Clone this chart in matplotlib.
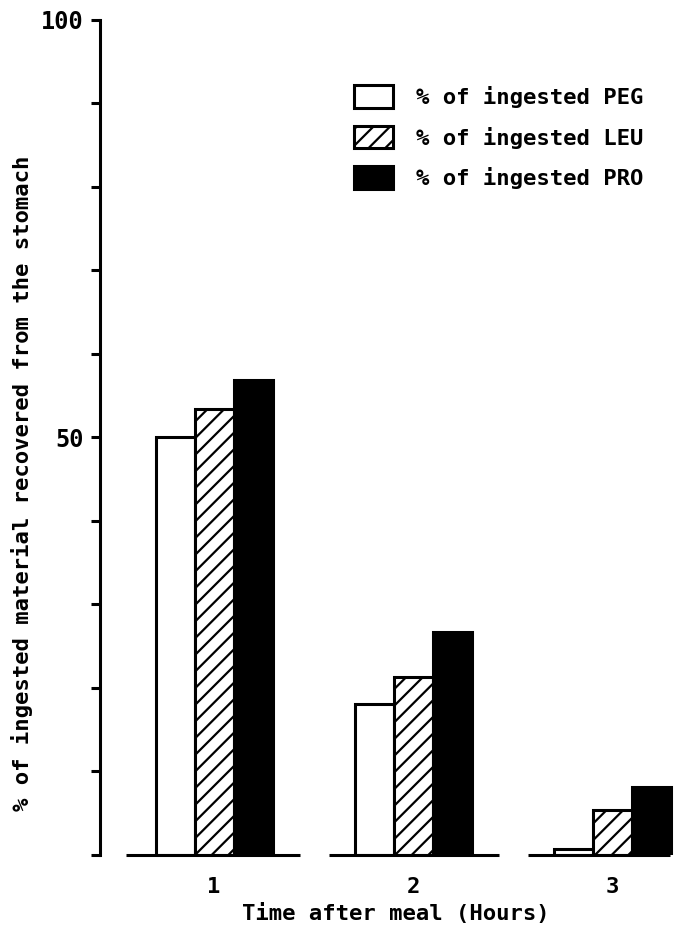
import numpy as np
import matplotlib
matplotlib.use("Agg")
import matplotlib.pyplot as plt
from matplotlib.patches import Patch

hours = [1, 2, 3]
hour_labels = ["1", "2", "3"]
peg = [50.0, 18.1, 0.7]
leu = [53.4, 21.3, 5.4]
pro = [56.9, 26.7, 8.1]
series_names = ["% of ingested PEG", "% of ingested LEU", "% of ingested PRO"]

plt.rcParams["font.family"] = ["DejaVu Sans Mono", "DejaVu Sans"]
plt.rcParams["font.weight"] = "bold"
plt.rcParams["axes.labelweight"] = "bold"
plt.rcParams["hatch.linewidth"] = 1.6

fig = plt.figure(figsize=(6.93, 9.33), dpi=100)
ax = fig.add_axes([0.1443, 0.0836, 0.8537, 0.895])

x = np.array(hours, dtype=float)
w = 0.196
ax.bar(x - w, peg, w, color="white", edgecolor="black", linewidth=2.2)
ax.bar(x, leu, w, color="white", edgecolor="black", linewidth=2.2, hatch="//")
ax.bar(x + w, pro, w, color="black", edgecolor="black", linewidth=2.2)

# broken baseline under each group
left_ext = [0.44, 0.42, 0.42]
right_ext = [0.43, 0.43, 0.29]
for xi, l, r in zip(x, left_ext, right_ext):
    ax.hlines(0, xi - l, xi + r, color="black", linewidth=2.2, clip_on=False)

ax.set_xlim(0.427, 3.4)
ax.set_ylim(0, 100)
for s in ["top", "right", "bottom"]:
    ax.spines[s].set_visible(False)
ax.spines["left"].set_linewidth(2.2)

ax.set_yticks([0, 50, 100])
ax.set_yticklabels(["", "50", "100"], fontsize=17)
ax.set_yticks(np.arange(10, 100, 10), minor=True)
ax.tick_params(axis="y", which="both", direction="out", length=6.5, width=2.2, pad=5)
ax.set_xticks(x)
ax.set_xticklabels(hour_labels, fontsize=16)
ax.tick_params(axis="x", length=0, pad=16)

ax.set_xlabel("Time after meal (Hours)", fontsize=16, labelpad=4)
ax.set_ylabel("% of ingested material recovered from the stomach", fontsize=16)
ax.yaxis.set_label_coords(-0.113, 0.445)

handles = [
    Patch(facecolor="white", edgecolor="black", linewidth=2.2),
    Patch(facecolor="white", edgecolor="black", linewidth=2.2, hatch="//"),
    Patch(facecolor="black", edgecolor="black", linewidth=2.2),
]
fig.legend(handles, series_names, loc="upper left",
           bbox_to_anchor=(354 / 693, 1 - 85 / 933), frameon=False,
           fontsize=16, handlelength=1.75, handleheight=1.2,
           handletextpad=1.05, labelspacing=0.8, borderpad=0, borderaxespad=0)

fig.savefig("out.png", dpi=100)
